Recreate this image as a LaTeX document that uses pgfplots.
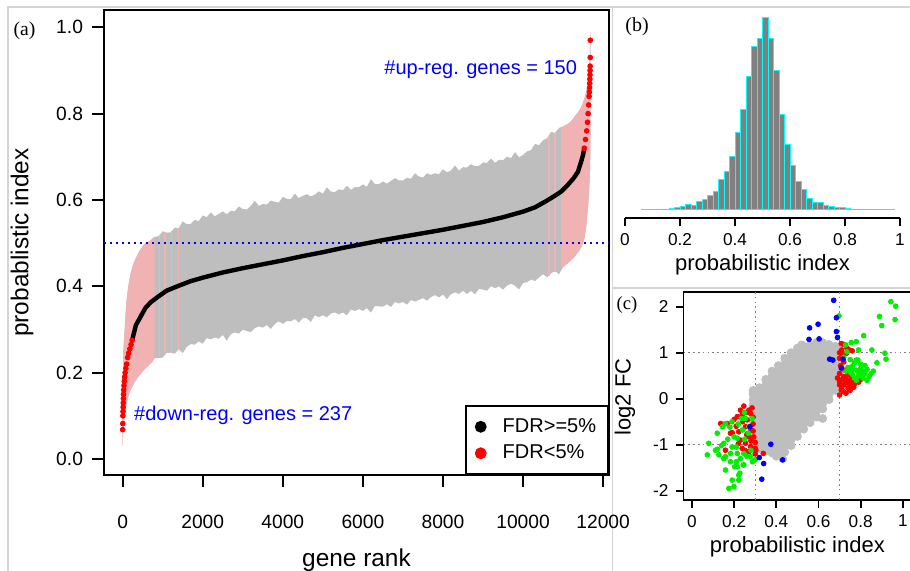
\documentclass[border=0pt]{standalone}
\usepackage{pgfplots}
\pgfplotsset{compat=1.18}
\usepackage{fontspec}
\setmainfont{Liberation Sans}
\newfontfamily\seriffont{Liberation Serif}
\definecolor{bandgray}{RGB}{190,190,190}
\definecolor{bandpink}{RGB}{240,178,178}
\definecolor{histgray}{RGB}{128,128,128}
\definecolor{histcyan}{RGB}{0,255,255}
\definecolor{framegray}{RGB}{212,212,212}
\definecolor{ptgray}{RGB}{190,190,190}
\definecolor{ptgreen}{RGB}{0,238,0}
\definecolor{ptred}{RGB}{255,0,0}
\definecolor{ptblue}{RGB}{0,0,255}
\begin{document}
\begin{tikzpicture}
\useasboundingbox (0,0) rectangle (455pt,285.5pt);
\fill[white] (0,0) rectangle (455pt,285.5pt);
\draw[framegray, line width=0.8pt] (4pt,0) -- (4pt,282pt) -- (455pt,282pt);
\draw[framegray, line width=0.8pt] (306.25pt,0) -- (306.25pt,282pt);
\draw[framegray, line width=0.8pt] (306.25pt,141.5pt) -- (455pt,141.5pt);
\node[font=\seriffont\fontsize{9.8}{11}\selectfont, inner sep=0] at (12.25pt,270pt) {(a)};
\node[font=\seriffont\fontsize{10}{11}\selectfont, inner sep=0] at (318.5pt,272pt) {(b)};
\node[font=\seriffont\fontsize{9.3}{11}\selectfont, inner sep=0] at (313.5pt,133pt) {(c)};

% ---------------- panel (a)
\begin{axis}[
  at={(52pt,48pt)}, anchor=south west, width=252.5pt, height=232.5pt, scale only axis,
  xmin=-466, xmax=12147, ymin=-0.037, ymax=1.04,
  axis line style={line width=0.9pt},
  tick align=outside, major tick length=6pt, tick style={black, line width=0.9pt},
  tick pos=left,
  xtick={0,2000,4000,6000,8000,10000,12000}, ytick={0,0.2,0.4,0.6,0.8,1.0},
  scaled x ticks=false,
  /pgf/number format/assume math mode=true,
  /pgf/number format/set thousands separator={},
  tick label style={font=\fontsize{9.6}{11}\selectfont},
  xticklabel style={yshift=-10.5pt},
  yticklabel style={xshift=-1pt, /pgf/number format/.cd, fixed, fixed zerofill, precision=1},
  xlabel={gene rank}, ylabel={probablistic index},
  label style={font=\fontsize{12.2}{14}\selectfont},
  xlabel style={at={(axis description cs:0.5,-0.183)}, anchor=center},
  ylabel style={at={(axis description cs:-0.162,0.5)}, anchor=center},
  legend style={at={(1,0)}, anchor=south east, draw=black, line width=0.9pt,
    font=\fontsize{10}{12}\selectfont, inner xsep=5pt, inner ysep=5.2pt, row sep=2.8pt,
    nodes={inner xsep=1pt, inner ysep=1pt},
    /tikz/every odd column/.append style={column sep=7.5pt}},
  legend cell align=left,
]
\addplot[fill=bandgray, draw=none, forget plot] coordinates {
(0,0.17)(10,0.21)(20,0.25)(35,0.28)(50,0.30)(70,0.33)(90,0.36)(115,0.38)(140,0.40)(170,0.415)(200,0.43)(240,0.443)(280,0.455)(330,0.465)(380,0.475)(430,0.483)(480,0.49)(520,0.495)(570,0.50)(620,0.502)(680,0.505)(740,0.51)
(800,0.515)(900,0.5158)(1000,0.5275)(1100,0.5243)(1200,0.525)(1300,0.5358)(1400,0.5345)(1500,0.5503)(1600,0.544)(1700,0.5448)(1800,0.5535)(1900,0.5513)(2000,0.564)(2100,0.5601)(2200,0.5712)(2300,0.5623)(2400,0.5674)(2500,0.5735)(2600,0.5666)(2700,0.5747)(2800,0.5738)(2900,0.5849)(3000,0.579)(3100,0.5781)(3200,0.5862)(3300,0.5983)(3400,0.5864)(3500,0.5905)(3600,0.5896)(3700,0.5987)(3800,0.5958)(3900,0.5939)(4000,0.607)(4100,0.6026)(4200,0.6021)(4300,0.6147)(4400,0.6042)(4500,0.6098)(4600,0.6133)(4700,0.6079)(4800,0.6124)(4900,0.620)(5000,0.6145)(5100,0.6291)(5200,0.6196)(5300,0.6182)(5400,0.6247)(5500,0.6223)(5600,0.6328)(5700,0.6234)(5800,0.6299)(5900,0.6295)(6000,0.636)(6100,0.6306)(6200,0.6482)(6300,0.6368)(6400,0.6364)(6500,0.643)(6600,0.6376)(6700,0.6442)(6800,0.6508)(6900,0.6454)(7000,0.645)(7100,0.6516)(7200,0.6492)(7300,0.6618)(7400,0.6544)(7500,0.652)(7600,0.6616)(7700,0.6582)(7800,0.6618)(7900,0.6594)(8000,0.671)(8100,0.664)(8200,0.668)(8300,0.680)(8400,0.668)(8500,0.676)(8600,0.675)(8700,0.683)(8800,0.678)(8900,0.679)(9000,0.687)(9100,0.686)(9200,0.696)(9300,0.686)(9400,0.693)(9500,0.692)(9600,0.700)(9700,0.697)(9800,0.711)(9900,0.699)(10000,0.704)(10100,0.7127)(10200,0.7153)(10300,0.730)(10400,0.7267)(10500,0.7383)(10600,0.743)(10700,0.7577)(10800,0.7553)(10900,0.767)
(11000,0.77)(11100,0.775)(11200,0.782)(11300,0.795)(11400,0.806)(11450,0.815)(11500,0.826)(11550,0.84)(11600,0.86)(11620,0.875)(11640,0.893)(11660,0.92)(11670,0.945)(11680,0.99)
(11680,0.70)(11670,0.66)(11650,0.62)(11620,0.58)(11580,0.54)(11530,0.51)(11500,0.50)(11450,0.49)(11400,0.482)(11300,0.47)(11200,0.46)(11100,0.452)(11000,0.445)
(10900,0.428)(10800,0.4356)(10700,0.4301)(10600,0.4207)(10500,0.4282)(10400,0.4208)(10300,0.4123)(10200,0.4159)(10100,0.4094)(10000,0.408)(9900,0.3927)(9800,0.4013)(9700,0.406)(9600,0.4016)(9500,0.3923)(9400,0.3999)(9300,0.3956)(9200,0.4002)(9100,0.3899)(9000,0.3925)(8900,0.3942)(8800,0.3818)(8700,0.3895)(8600,0.3821)(8500,0.3898)(8400,0.3824)(8300,0.3861)(8200,0.3817)(8100,0.3704)(8000,0.381)(7900,0.3744)(7800,0.3798)(7700,0.3752)(7600,0.3666)(7500,0.373)(7400,0.3684)(7300,0.3648)(7200,0.3682)(7100,0.3576)(7000,0.364)(6900,0.3604)(6800,0.3638)(6700,0.3522)(6600,0.3586)(6500,0.353)(6400,0.3534)(6300,0.3548)(6200,0.3392)(6100,0.3496)(6000,0.343)(5900,0.3475)(5800,0.343)(5700,0.3465)(5600,0.333)(5500,0.3395)(5400,0.335)(5300,0.3395)(5200,0.337)(5100,0.3285)(5000,0.333)(4900,0.3285)(4800,0.333)(4700,0.3175)(4600,0.326)(4500,0.3265)(4400,0.316)(4300,0.3245)(4200,0.319)(4100,0.3195)(4000,0.313)(3900,0.3189)(3800,0.3127)(3700,0.3016)(3600,0.3104)(3500,0.3043)(3400,0.3071)(3300,0.303)(3200,0.2938)(3100,0.2967)(3000,0.2995)(2900,0.2904)(2800,0.2932)(2700,0.2891)(2600,0.2739)(2500,0.2878)(2400,0.2786)(2300,0.2815)(2200,0.2773)(2100,0.2802)(2000,0.267)(1900,0.2724)(1800,0.2648)(1700,0.2662)(1600,0.2597)(1500,0.2451)(1400,0.2545)(1300,0.2439)(1200,0.2463)(1100,0.2458)(1000,0.2352)(900,0.2336)(800,0.234)
(740,0.225)(680,0.22)(620,0.214)(570,0.21)(520,0.205)(480,0.20)(430,0.195)(380,0.19)(330,0.183)(280,0.175)(240,0.168)(200,0.16)(170,0.153)(140,0.145)(115,0.135)(90,0.125)(70,0.113)(50,0.10)(35,0.085)(20,0.07)(10,0.05)(0,0.03)};
\addplot[fill=bandpink, draw=none, forget plot] coordinates {
(0,0.17)(10,0.21)(20,0.25)(35,0.28)(50,0.30)(70,0.33)(90,0.36)(115,0.38)(140,0.40)(170,0.415)(200,0.43)(240,0.443)(280,0.455)(330,0.465)(380,0.475)(430,0.483)(480,0.49)(520,0.495)(570,0.50)(620,0.502)(680,0.505)(740,0.51)(800,0.515)
(800,0.234)(740,0.225)(680,0.22)(620,0.214)(570,0.21)(520,0.205)(480,0.20)(430,0.195)(380,0.19)(330,0.183)(280,0.175)(240,0.168)(200,0.16)(170,0.153)(140,0.145)(115,0.135)(90,0.125)(70,0.113)(50,0.10)(35,0.085)(20,0.07)(10,0.05)(0,0.03)};
\addplot[fill=bandpink, draw=none, forget plot] coordinates {
(10950,0.768)(11000,0.77)(11100,0.775)(11200,0.782)(11300,0.795)(11400,0.806)(11450,0.815)(11500,0.826)(11550,0.84)(11600,0.86)(11620,0.875)(11640,0.893)(11660,0.92)(11670,0.945)(11680,0.99)
(11680,0.70)(11670,0.66)(11650,0.62)(11620,0.58)(11580,0.54)(11530,0.51)(11500,0.50)(11450,0.49)(11400,0.482)(11300,0.47)(11200,0.46)(11100,0.452)(11000,0.445)(10950,0.437)};
\addplot[bandpink, line width=0.6pt, forget plot] coordinates {(930,0.236)(930,0.52)};
\addplot[bandpink, line width=0.6pt, forget plot] coordinates {(1060,0.243)(1060,0.524)};
\addplot[bandpink, line width=0.6pt, forget plot] coordinates {(1220,0.249)(1220,0.528)};
\addplot[bandpink, line width=0.6pt, forget plot] coordinates {(1400,0.255)(1400,0.535)};
\addplot[bandpink, line width=0.6pt, forget plot] coordinates {(10650,0.425)(10650,0.748)};
\addplot[bandpink, line width=0.6pt, forget plot] coordinates {(10800,0.432)(10800,0.756)};
\addplot[ptblue, line width=0.8pt, dash pattern=on 1.2pt off 1.8pt, forget plot] coordinates {(-466,0.5)(12147,0.5)};
\addplot[black, line width=2.2pt, line cap=round, forget plot] coordinates {
(237,0.275)(330,0.31)(450,0.33)(570,0.35)(700,0.363)(870,0.375)(1100,0.39)(1365,0.40)(1700,0.412)(2000,0.42)(2500,0.432)(3000,0.442)(3500,0.451)(4000,0.46)(4500,0.47)(5000,0.479)(5500,0.489)(6000,0.498)(6500,0.507)(7000,0.515)(7500,0.523)(8000,0.531)(8500,0.54)(9000,0.549)(9500,0.56)(10000,0.573)(10300,0.583)(10570,0.597)(10800,0.61)(10960,0.62)(11100,0.633)(11260,0.65)(11370,0.665)(11455,0.69)(11500,0.705)(11530,0.72)};
\addplot[ptred, only marks, mark=*, mark size=1.2pt, forget plot] coordinates {
(0,0.068)(3,0.082)(6,0.10)(9,0.11)(12,0.12)(15,0.13)(18,0.14)(22,0.15)(27,0.16)(33,0.17)(40,0.18)(50,0.19)(62,0.20)(80,0.21)(100,0.22)(125,0.235)(150,0.245)(180,0.255)(210,0.265)(237,0.275)};
\addplot[ptred, only marks, mark=*, mark size=1.2pt, forget plot] coordinates {
(11530,0.72)(11560,0.74)(11590,0.76)(11610,0.78)(11625,0.80)(11640,0.82)(11650,0.84)(11657,0.85)(11662,0.86)(11666,0.87)(11669,0.88)(11672,0.89)(11674,0.90)(11676,0.91)(11678,0.93)(11680,0.97)};
\node[ptblue, anchor=east, inner sep=0, font=\fontsize{10}{12}\selectfont] at (axis cs:11357,0.903) {\#up-reg. genes = 150};
\node[ptblue, anchor=west, inner sep=0, font=\fontsize{10}{12}\selectfont] at (axis cs:277,0.101) {\#down-reg. genes = 237};
\addlegendimage{only marks, mark=*, mark size=2.5pt, black}
\addlegendentry{FDR>=5\%}
\addlegendimage{only marks, mark=*, mark size=2.5pt, ptred}
\addlegendentry{FDR<5\%}
\end{axis}

% ---------------- panel (b)
\begin{axis}[
  at={(312.5pt,176.35pt)}, anchor=south west, width=137.5pt, height=105.65pt, scale only axis,
  xmin=0, xmax=1, ymin=-25, ymax=609,
  axis x line*=bottom, axis y line=none,
  x axis line style={line width=0.9pt},
  xtick={0,0.2,0.4,0.6,0.8,1}, tick align=outside, major tick length=4pt,
  tick style={black, line width=0.9pt},
  /pgf/number format/assume math mode=true,
  tick label style={font=\fontsize{8.6}{10}\selectfont},
  xlabel={probabilistic index},
  label style={font=\fontsize{11}{13}\selectfont},
  xlabel style={at={(axis description cs:0.5,-0.222)}, anchor=center},
]
\addplot[ybar interval, fill=histgray, draw=histcyan, line width=0.5pt] coordinates {
(0.06,1)(0.08,1)(0.10,1)(0.12,1)(0.14,2)(0.16,3)(0.18,8)(0.20,11)(0.22,17)(0.24,14)(0.26,25)(0.28,32)(0.30,43)(0.32,55)(0.34,90)(0.36,116)(0.38,160)(0.40,232)(0.42,302)(0.44,400)(0.46,490)(0.48,515)(0.50,578)(0.52,513)(0.54,417)(0.56,285)(0.58,197)(0.60,132)(0.62,85)(0.64,60)(0.66,34)(0.68,23)(0.70,23)(0.72,12)(0.74,9)(0.76,6)(0.78,6)(0.80,3)(0.82,2)(0.84,1)(0.86,1)(0.88,1)(0.90,1)(0.92,1)(0.94,1)(0.96,1)(0.98,1)};
\end{axis}

% ---------------- panel (c)
\begin{axis}[
  at={(341.75pt,35.5pt)}, anchor=south west, width=113.9pt, height=104pt, scale only axis,
  xmin=-0.04, xmax=1.04, ymin=-2.202, ymax=2.32,
  axis line style={line width=0.9pt},
  tick align=outside, major tick length=4pt, tick style={black, line width=0.9pt},
  tick pos=left,
  xtick={0,0.2,0.4,0.6,0.8,1}, ytick={-2,-1,0,1,2},
  /pgf/number format/assume math mode=true,
  tick label style={font=\fontsize{8.6}{10}\selectfont},
  xlabel={probabilistic index}, ylabel={log2 FC},
  label style={font=\fontsize{11}{13}\selectfont},
  xlabel style={at={(axis description cs:0.5,-0.226)}, anchor=center},
  ylabel style={at={(axis description cs:-0.257,0.495)}, anchor=center},
]
\addplot[gray, line width=0.6pt, dash pattern=on 0.8pt off 1.6pt] coordinates {(0.3,-2.202)(0.3,2.32)};
\addplot[gray, line width=0.6pt, dash pattern=on 0.8pt off 1.6pt] coordinates {(0.7,-2.202)(0.7,2.32)};
\addplot[gray, line width=0.6pt, dash pattern=on 0.8pt off 1.6pt] coordinates {(-0.04,1)(1.04,1)};
\addplot[gray, line width=0.6pt, dash pattern=on 0.8pt off 1.6pt] coordinates {(-0.04,-1)(1.04,-1)};
\addplot[only marks, mark=*, mark size=2.0pt, color=ptgray] coordinates {
(0.29,-0.98)(0.29,-0.86)(0.29,-0.74)(0.29,-0.62)(0.29,-0.50)(0.29,-0.38)(0.29,-0.26)(0.29,-0.14)(0.29,-0.02)(0.29,0.10)
(0.32,-1.08)(0.32,-0.96)(0.32,-0.84)(0.32,-0.72)(0.32,-0.60)(0.32,-0.48)(0.32,-0.36)(0.32,-0.24)(0.32,-0.12)(0.32,0.0)(0.32,0.12)(0.32,0.24)
(0.35,-1.14)(0.35,-1.02)(0.35,-0.90)(0.35,-0.78)(0.35,-0.66)(0.35,-0.54)(0.35,-0.42)(0.35,-0.30)(0.35,-0.18)(0.35,-0.06)(0.35,0.06)(0.35,0.18)(0.35,0.30)(0.35,0.42)
(0.38,-1.18)(0.38,-1.06)(0.38,-0.94)(0.38,-0.82)(0.38,-0.70)(0.38,-0.58)(0.38,-0.46)(0.38,-0.34)(0.38,-0.22)(0.38,-0.10)(0.38,0.02)(0.38,0.14)(0.38,0.26)(0.38,0.38)(0.38,0.50)(0.38,0.60)
(0.41,-1.20)(0.41,-1.08)(0.41,-0.96)(0.41,-0.84)(0.41,-0.72)(0.41,-0.60)(0.41,-0.48)(0.41,-0.36)(0.41,-0.24)(0.41,-0.12)(0.41,0.0)(0.41,0.12)(0.41,0.24)(0.41,0.36)(0.41,0.48)(0.41,0.60)(0.41,0.72)
(0.44,-1.16)(0.44,-1.04)(0.44,-0.92)(0.44,-0.80)(0.44,-0.68)(0.44,-0.56)(0.44,-0.44)(0.44,-0.32)(0.44,-0.20)(0.44,-0.08)(0.44,0.04)(0.44,0.16)(0.44,0.28)(0.44,0.40)(0.44,0.52)(0.44,0.64)(0.44,0.76)(0.44,0.88)
(0.47,-1.02)(0.47,-0.90)(0.47,-0.78)(0.47,-0.66)(0.47,-0.54)(0.47,-0.42)(0.47,-0.30)(0.47,-0.18)(0.47,-0.06)(0.47,0.06)(0.47,0.18)(0.47,0.30)(0.47,0.42)(0.47,0.54)(0.47,0.66)(0.47,0.78)(0.47,0.90)(0.47,1.00)
(0.50,-0.82)(0.50,-0.70)(0.50,-0.58)(0.50,-0.46)(0.50,-0.34)(0.50,-0.22)(0.50,-0.10)(0.50,0.02)(0.50,0.14)(0.50,0.26)(0.50,0.38)(0.50,0.50)(0.50,0.62)(0.50,0.74)(0.50,0.86)(0.50,0.98)(0.50,1.10)
(0.53,-0.66)(0.53,-0.54)(0.53,-0.42)(0.53,-0.30)(0.53,-0.18)(0.53,-0.06)(0.53,0.06)(0.53,0.18)(0.53,0.30)(0.53,0.42)(0.53,0.54)(0.53,0.66)(0.53,0.78)(0.53,0.90)(0.53,1.02)(0.53,1.14)
(0.56,-0.52)(0.56,-0.40)(0.56,-0.28)(0.56,-0.16)(0.56,-0.04)(0.56,0.08)(0.56,0.20)(0.56,0.32)(0.56,0.44)(0.56,0.56)(0.56,0.68)(0.56,0.80)(0.56,0.92)(0.56,1.04)(0.56,1.16)
(0.59,-0.40)(0.59,-0.28)(0.59,-0.16)(0.59,-0.04)(0.59,0.08)(0.59,0.20)(0.59,0.32)(0.59,0.44)(0.59,0.56)(0.59,0.68)(0.59,0.80)(0.59,0.92)(0.59,1.04)(0.59,1.16)(0.59,1.22)
(0.62,-0.22)(0.62,-0.10)(0.62,0.02)(0.62,0.14)(0.62,0.26)(0.62,0.38)(0.62,0.50)(0.62,0.62)(0.62,0.74)(0.62,0.86)(0.62,0.98)(0.62,1.10)(0.62,1.22)
(0.65,-0.02)(0.65,0.10)(0.65,0.22)(0.65,0.34)(0.65,0.46)(0.65,0.58)(0.65,0.70)(0.65,0.82)(0.65,0.94)(0.65,1.06)(0.65,1.18)
(0.68,0.18)(0.68,0.30)(0.68,0.42)(0.68,0.54)(0.68,0.66)(0.68,0.78)(0.68,0.90)(0.68,1.02)(0.68,1.14)
(0.70,0.34)(0.70,0.46)(0.70,0.58)(0.70,0.70)(0.70,0.82)(0.70,0.94)(0.70,1.06)
(0.62,-0.43)(0.52,1.17)(0.29,0.18)(0.43,-1.30)(0.40,-1.25)};
\addplot[only marks, mark=*, mark size=1.2pt, color=ptred] coordinates {
(0.708,1.20)(0.72,1.18)(0.735,1.10)(0.71,1.06)(0.745,1.06)(0.76,1.04)(0.733,0.99)(0.70,0.88)(0.72,0.80)(0.71,0.66)(0.70,0.55)(0.72,0.48)(0.71,0.41)(0.73,0.44)(0.745,0.37)(0.72,0.30)(0.71,0.23)(0.74,0.23)(0.72,0.15)(0.76,0.37)(0.78,0.44)(0.80,0.42)(0.70,0.37)(0.70,0.08)(0.708,0.19)(0.767,0.25)(0.73,0.12)(0.75,0.30)(0.705,0.72)(0.725,0.62)(0.74,0.52)(0.70,1.0)(0.715,0.95)(0.75,0.18)(0.70,0.30)(0.77,0.32)(0.73,0.35)(0.69,0.45)(0.755,0.45)(0.79,0.36)
(0.246,-0.16)(0.136,-0.54)(0.215,-0.39)(0.238,-0.35)(0.262,-0.46)(0.278,-0.32)(0.254,-0.61)(0.222,-0.72)(0.191,-0.74)(0.278,-0.68)(0.293,-0.83)(0.23,-0.90)(0.254,-0.97)(0.278,-1.04)(0.30,-1.08)(0.159,-1.12)(0.183,-0.75)(0.167,-0.54)(0.27,-0.83)(0.238,-1.08)(0.30,-1.20)(0.338,-1.19)(0.303,-1.12)(0.27,-0.25)(0.29,-0.55)(0.26,-0.78)(0.28,-0.92)(0.21,-0.60)(0.24,-0.50)(0.20,-0.45)(0.29,-0.40)(0.25,-1.12)(0.22,-0.98)(0.29,-0.70)(0.27,-1.15)(0.30,-0.95)(0.26,-0.30)(0.23,-0.25)(0.15,-0.56)(0.285,-0.20)};
\addplot[only marks, mark=*, mark size=1.2pt, color=ptgreen] coordinates {
(0.159,-0.54)(0.12,-0.75)(0.19,-0.50)(0.254,-0.43)(0.20,-0.83)(0.215,-0.86)(0.151,-0.97)(0.112,-1.12)(0.073,-1.22)(0.08,-0.97)(0.128,-1.22)(0.159,-1.26)(0.183,-1.19)(0.215,-1.19)(0.246,-1.19)(0.278,-1.26)(0.30,-1.33)(0.159,-1.55)(0.191,-1.77)(0.199,-1.91)(0.175,-1.95)(0.222,-1.66)(0.222,-1.77)(0.246,-1.44)(0.215,-1.48)(0.183,-1.37)(0.151,-1.30)(0.27,-0.61)(0.285,-0.43)(0.12,-1.10)(0.145,-0.61)(0.243,-1.44)(0.227,-1.62)(0.203,-1.48)(0.211,-1.37)(0.287,-1.37)(0.267,-0.75)(0.235,-0.43)(0.249,-0.30)(0.19,-1.05)(0.17,-0.88)(0.23,-1.30)(0.26,-1.25)(0.21,-1.05)(0.25,-0.88)(0.18,-0.62)(0.14,-1.02)(0.28,-1.12)(0.24,-0.68)(0.22,-0.55)
(0.943,2.11)(0.966,2.01)(0.963,1.72)(0.90,1.59)(0.889,1.79)(0.697,1.80)(0.814,1.37)(0.779,1.24)(0.755,1.22)(0.729,1.17)(0.79,1.06)(0.853,1.06)(0.915,0.99)(0.92,0.86)(0.877,0.78)(0.86,0.60)(0.83,0.64)(0.779,0.84)(0.735,1.02)(0.787,0.84)(0.76,0.70)(0.78,0.62)(0.80,0.66)(0.82,0.55)(0.79,0.50)(0.77,0.45)(0.81,0.45)(0.84,0.48)(0.75,0.58)(0.80,0.75)(0.83,0.40)(0.76,0.53)(0.78,0.40)(0.74,0.68)(0.82,0.72)(0.85,0.55)(0.77,0.78)(0.73,0.60)(0.81,0.60)(0.79,0.58)(0.75,0.85)(0.72,0.90)(0.80,0.52)(0.76,0.62)};
\addplot[only marks, mark=*, mark size=1.2pt, color=ptblue] coordinates {
(0.672,2.14)(0.685,1.76)(0.598,1.62)(0.558,1.54)(0.555,1.29)(0.603,1.30)(0.685,1.46)(0.69,1.33)(0.653,0.86)(0.668,0.84)(0.716,0.86)(0.708,0.67)(0.275,-0.61)(0.319,-1.28)(0.34,-1.41)(0.43,-1.33)(0.331,-1.75)(0.374,-0.99)};
\end{axis}
\end{tikzpicture}
\end{document}
